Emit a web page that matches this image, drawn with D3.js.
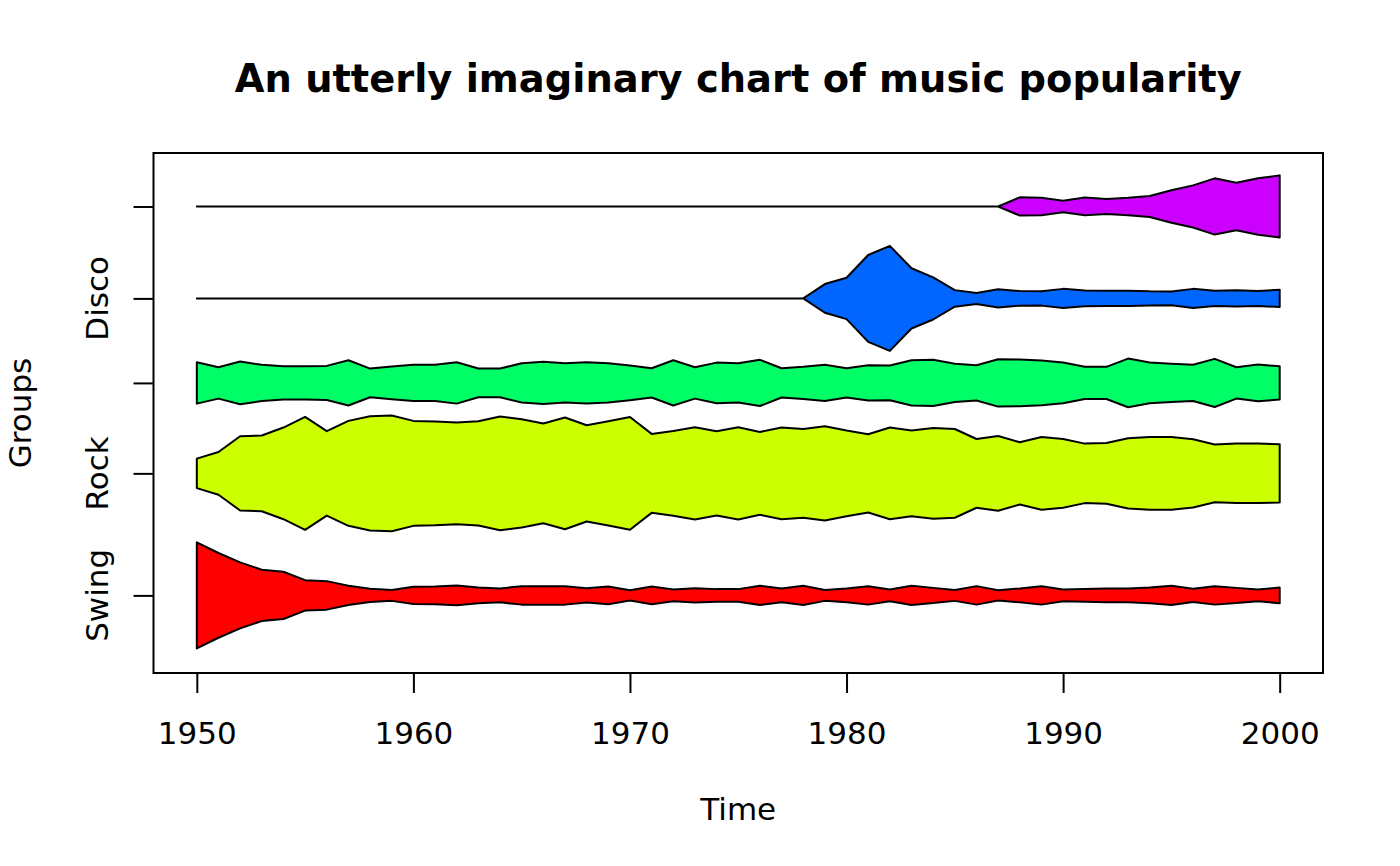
<!DOCTYPE html>
<html>
<head>
<meta charset="utf-8">
<script src="https://cdn.jsdelivr.net/npm/d3@7"></script>
<style>
  body { margin: 0; background: #fff; }
  text { font-family: "DejaVu Sans", sans-serif; fill: #000; }
</style>
</head>
<body>
<div id="chart"></div>
<script>
// Time positions (one column per year)
const years = [1950, 1951, 1952, 1953, 1954, 1955, 1956, 1957, 1958, 1959,
    1960, 1961, 1962, 1963, 1964, 1965, 1966, 1967, 1968, 1969,
    1970, 1971, 1972, 1973, 1974, 1975, 1976, 1977, 1978, 1979,
    1980, 1981, 1982, 1983, 1984, 1985, 1986, 1987, 1988, 1989,
    1990, 1991, 1992, 1993, 1994, 1995, 1996, 1997, 1998, 1999, 2000];

// Group labels (only the ones R had room to print are shown)
const groupLabels = ["Swing", "Rock", "", "Disco", ""];
const groupColors = ["#FF0000", "#CCFF00", "#00FF66", "#0066FF", "#CC00FF"];

// Popularity values per group
const swing = [0.551, 0.440, 0.343, 0.266, 0.245, 0.158, 0.148, 0.099, 0.068, 0.057,
    0.089, 0.093, 0.103, 0.082, 0.072, 0.096, 0.096, 0.096, 0.075, 0.093,
    0.054, 0.093, 0.061, 0.075, 0.065, 0.065, 0.099, 0.072, 0.099, 0.057,
    0.072, 0.096, 0.061, 0.099, 0.078, 0.057, 0.096, 0.054, 0.072, 0.096,
    0.061, 0.065, 0.072, 0.072, 0.082, 0.099, 0.068, 0.096, 0.078, 0.061, 0.082];
const rock = [0.153, 0.222, 0.385, 0.393, 0.476, 0.586, 0.438, 0.545, 0.594, 0.601,
    0.545, 0.539, 0.528, 0.542, 0.591, 0.563, 0.518, 0.580, 0.500, 0.542,
    0.586, 0.410, 0.441, 0.479, 0.438, 0.479, 0.430, 0.476, 0.461, 0.490,
    0.445, 0.406, 0.476, 0.445, 0.472, 0.461, 0.357, 0.389, 0.323, 0.378,
    0.357, 0.309, 0.316, 0.365, 0.378, 0.378, 0.354, 0.299, 0.309, 0.309, 0.302];
const pop = [0.215, 0.163, 0.222, 0.188, 0.173, 0.173, 0.177, 0.235, 0.149, 0.170,
    0.188, 0.188, 0.215, 0.149, 0.149, 0.204, 0.219, 0.204, 0.215, 0.204,
    0.180, 0.152, 0.235, 0.163, 0.211, 0.204, 0.240, 0.152, 0.167, 0.188,
    0.152, 0.183, 0.180, 0.235, 0.240, 0.198, 0.183, 0.246, 0.243, 0.232,
    0.211, 0.167, 0.167, 0.253, 0.211, 0.198, 0.188, 0.250, 0.163, 0.191, 0.173];
const disco = [0, 0, 0, 0, 0, 0, 0, 0, 0, 0,
    0, 0, 0, 0, 0, 0, 0, 0, 0, 0,
    0, 0, 0, 0, 0, 0, 0, 0, 0, 0.149,
    0.215, 0.451, 0.545, 0.313, 0.219, 0.086, 0.057, 0.094, 0.076, 0.075,
    0.099, 0.081, 0.080, 0.080, 0.073, 0.071, 0.099, 0.080, 0.085, 0.078, 0.090];
const hiphop = [0, 0, 0, 0, 0, 0, 0, 0, 0, 0,
    0, 0, 0, 0, 0, 0, 0, 0, 0, 0,
    0, 0, 0, 0, 0, 0, 0, 0, 0, 0,
    0, 0, 0, 0, 0, 0, 0, 0, 0.095, 0.091,
    0.059, 0.092, 0.077, 0.090, 0.109, 0.169, 0.219, 0.292, 0.247, 0.293, 0.323];

const xTicks = [1950, 1960, 1970, 1980, 1990, 2000];

const groups = [swing, rock, pop, disco, hiphop];

const width = 1400;
const height = 866;
const plot = { left: 153.5, right: 1323, top: 153, bottom: 673 };
const labelSize = 31;

const svg = d3.select("#chart")
    .append("svg")
    .attr("width", width)
    .attr("height", height);

// Each kite gets a slot 10% larger than its widest point
const maxVals = groups.map((g) => d3.max(g));
const slots = maxVals.map((m) => m * 1.1);
const ylimTop = d3.sum(slots);
let acc = 0;
const centers = slots.map((s) => {
    const c = acc + s / 2;
    acc += s;
    return c;
});

// Scales (R style 4% padding on both axes)
const xPad = (years[years.length - 1] - years[0]) * 0.04;
const xScale = d3.scaleLinear()
    .domain([years[0] - xPad, years[years.length - 1] + xPad])
    .range([plot.left, plot.right]);

const yScale = d3.scaleLinear()
    .domain([-ylimTop * 0.04, ylimTop * 1.04])
    .range([plot.bottom, plot.top]);

// Kites
const line = d3.line()
    .x((d) => xScale(d[0]))
    .y((d) => yScale(d[1]));

groups.forEach((vals, i) => {
    const upper = years.map((yr, j) => [yr, centers[i] + vals[j] / 2]);
    const lower = years.map((yr, j) => [yr, centers[i] - vals[j] / 2]).reverse();
    svg.append("path")
        .attr("d", line(upper.concat(lower)) + "Z")
        .attr("fill", groupColors[i])
        .attr("stroke", "#000")
        .attr("stroke-width", 2)
        .attr("stroke-linejoin", "round");
});

// Plot box
svg.append("rect")
    .attr("x", plot.left)
    .attr("y", plot.top)
    .attr("width", plot.right - plot.left)
    .attr("height", plot.bottom - plot.top)
    .attr("fill", "none")
    .attr("stroke", "#000")
    .attr("stroke-width", 2);

// X axis
const xAxis = svg.append("g")
    .attr("transform", `translate(0,${plot.bottom})`)
    .call(d3.axisBottom(xScale).tickValues(xTicks).tickFormat(d3.format("d"))
        .tickSize(20).tickPadding(0).tickSizeOuter(0));
xAxis.select(".domain").remove();
xAxis.selectAll(".tick line").attr("stroke", "#000").attr("stroke-width", 2);
xAxis.selectAll(".tick text")
    .attr("y", 70.5)
    .attr("dy", null)
    .attr("font-size", labelSize)
    .attr("font-family", "DejaVu Sans");

// Y axis (ticks at each kite centre)
const yAxis = svg.append("g")
    .attr("transform", `translate(${plot.left},0)`)
    .call(d3.axisLeft(yScale).tickValues(centers).tickFormat("")
        .tickSize(20).tickSizeOuter(0));
yAxis.select(".domain").remove();
yAxis.selectAll(".tick line").attr("stroke", "#000").attr("stroke-width", 2);

svg.append("g")
    .selectAll("text")
    .data(centers)
    .join("text")
    .attr("transform", (d) => `translate(108,${yScale(d)}) rotate(-90)`)
    .attr("text-anchor", "middle")
    .attr("font-size", labelSize)
    .text((d, i) => groupLabels[i]);

// Title and axis labels
svg.append("text")
    .attr("x", (plot.left + plot.right) / 2)
    .attr("y", 92)
    .attr("text-anchor", "middle")
    .attr("font-size", 38.4)
    .attr("font-weight", "bold")
    .text("An utterly imaginary chart of music popularity");

svg.append("text")
    .attr("x", (plot.left + plot.right) / 2)
    .attr("y", 819.5)
    .attr("text-anchor", "middle")
    .attr("font-size", labelSize)
    .text("Time");

svg.append("text")
    .attr("transform", `translate(31,${(plot.top + plot.bottom) / 2}) rotate(-90)`)
    .attr("text-anchor", "middle")
    .attr("font-size", labelSize)
    .text("Groups");
</script>
</body>
</html>
